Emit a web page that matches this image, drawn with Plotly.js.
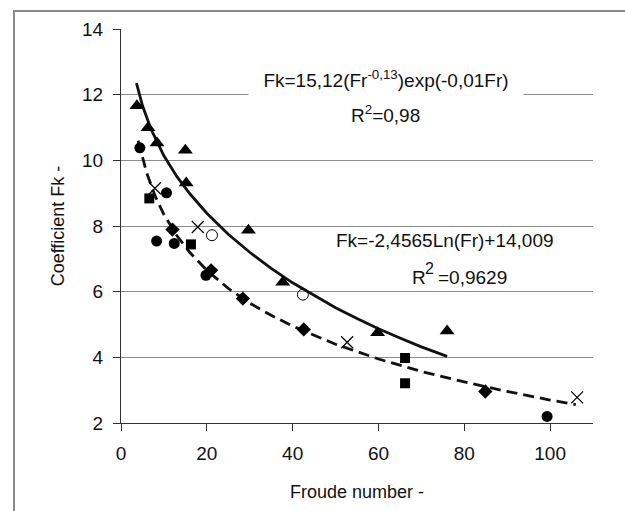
<!DOCTYPE html>
<html>
<head>
<meta charset="utf-8">
<script src="https://cdn.plot.ly/plotly-3.0.1.min.js"></script>
<style>
  html, body { margin: 0; padding: 0; background: #fff; overflow: hidden; }
  #wrap { position: relative; width: 625px; height: 511px; }
  #chart { position: absolute; left: 0; top: 0; width: 625px; height: 511px; }
  #frame { position: absolute; left: 13px; top: 10px; width: 700px; height: 600px;
           border-left: 2px solid #8a8a8a; border-top: 2px solid #8a8a8a; pointer-events: none; }
</style>
</head>
<body>
<div id="wrap">
  <div id="chart"></div>
  <div id="frame"></div>
</div>
<script>
// ---- data ----
const triX = [3.7, 6.3, 8.4, 15.0, 15.2, 29.7, 37.7, 59.8, 76.0];
const triY = [11.66, 10.99, 10.53, 10.31, 9.31, 7.87, 6.29, 4.75, 4.80];

const circX = [4.4, 10.6, 8.3, 12.4, 19.8, 99.3];
const circY = [10.38, 9.01, 7.54, 7.47, 6.50, 2.20];

const sqX = [6.6, 16.3, 66.2, 66.2];
const sqY = [8.84, 7.44, 3.98, 3.21];

const diaX = [12.0, 21.0, 28.4, 42.6, 84.9];
const diaY = [7.89, 6.65, 5.79, 4.85, 2.96];

const openX = [21.2, 42.4];
const openY = [7.72, 5.91];

const crossX = [7.9, 17.9, 52.7, 106.3];
const crossY = [9.15, 7.97, 4.46, 2.78];

// power-exponential trend (solid)
const powFitX = [3.6, 5, 7, 10, 13, 16, 20, 25, 30, 35, 40, 45, 50, 55, 60, 65, 70, 76];
const powFitY = [12.35, 11.67, 10.95, 10.14, 9.51, 8.99, 8.39, 7.75, 7.20, 6.71, 6.27, 5.88, 5.51, 5.18, 4.87, 4.59, 4.32, 4.03];

// logarithmic trend (dashed)
const logFitX = [4, 5, 6, 8, 10, 13, 16, 20, 25, 30, 35, 40, 50, 60, 70, 80, 90, 100, 106];
const logFitY = [10.60, 10.06, 9.61, 8.90, 8.35, 7.71, 7.20, 6.65, 6.10, 5.65, 5.28, 4.95, 4.40, 3.95, 3.57, 3.25, 2.96, 2.70, 2.56];

const xTicks = [0, 20, 40, 60, 80, 100];
const yTicks = [2, 4, 6, 8, 10, 12, 14];

const xTitle = "Froude number -";
const yTitle = "Coefficient Fk -";
const eq1 = "Fk=15,12(Fr<sup>-0,13</sup>)exp(-0,01Fr)";
const r2a = "R<sup>2</sup>=0,98";
const eq2 = "Fk=-2,4565Ln(Fr)+14,009";
const r2bR = "R";
const r2bSup = "2";
const r2bVal = "=0,9629";

// ---- drawing ----
const FONT = '"Liberation Sans", Arial, sans-serif';
const traces = [
  { x: logFitX, y: logFitY, mode: 'lines', line: { color: '#111', width: 2.8, dash: '11px,6px' }, hoverinfo: 'skip' },
  { x: powFitX, y: powFitY, mode: 'lines', line: { color: '#111', width: 2.8 }, hoverinfo: 'skip' },
  { x: triX, y: triY, mode: 'markers', marker: { symbol: 'triangle-up', size: 13, color: '#000' } },
  { x: circX, y: circY, mode: 'markers', marker: { symbol: 'circle', size: 11, color: '#000' } },
  { x: sqX, y: sqY, mode: 'markers', marker: { symbol: 'square', size: 10, color: '#000' } },
  { x: diaX, y: diaY, mode: 'markers', marker: { symbol: 'diamond', size: 11, color: '#000' } },
  { x: openX, y: openY, mode: 'markers', marker: { symbol: 'circle-open', size: 11, color: '#000', line: { width: 1, color: '#000' } } },
  { x: crossX, y: crossY, mode: 'markers', marker: { symbol: 'x-thin-open', size: 12, color: '#000', line: { width: 1.2, color: '#000' } } }
];

const layout = {
  width: 625, height: 511,
  margin: { l: 121, r: 32, t: 29, b: 88, pad: 0 },
  paper_bgcolor: '#fff', plot_bgcolor: '#fff',
  showlegend: false,
  font: { family: FONT, size: 19, color: '#111' },
  xaxis: {
    range: [0, 110], tickvals: xTicks, ticktext: xTicks.map(String),
    showgrid: false, zeroline: false, showline: true, linecolor: '#333', linewidth: 1,
    ticks: 'outside', ticklen: 7, tickcolor: '#333', tickfont: { size: 19 },
    ticklabelstandoff: 6,
    title: { text: xTitle, font: { size: 18 }, standoff: 22 },
    fixedrange: true
  },
  yaxis: {
    range: [2, 14], tickvals: yTicks, ticktext: yTicks.map(String),
    showgrid: true, gridcolor: '#8c8c8c', gridwidth: 1,
    zeroline: false, showline: true, linecolor: '#333', linewidth: 1,
    ticks: 'outside', ticklen: 7, tickcolor: '#333', tickfont: { size: 19 },
    ticklabelstandoff: 6,
    title: { text: yTitle, font: { size: 18 }, standoff: 12 },
    fixedrange: true
  },
  annotations: [
    { x: 61.7, y: 12.48, xref: 'x', yref: 'y', text: eq1, showarrow: false,
      font: { size: 19, color: '#111' }, bgcolor: '#fff', width: 274, height: 38, borderpad: 0 },
    { x: 61.7, y: 11.41, xref: 'x', yref: 'y', text: r2a, showarrow: false,
      font: { size: 19, color: '#111' } },
    { x: 75.6, y: 7.57, xref: 'x', yref: 'y', text: eq2, showarrow: false,
      font: { size: 19, color: '#111' } },
    { x: 69.4, y: 6.44, xref: 'x', yref: 'y', text: r2bR, showarrow: false,
      font: { size: 19, color: '#111' } },
    { x: 72.0, y: 6.70, xref: 'x', yref: 'y', text: r2bSup, showarrow: false,
      font: { size: 16, color: '#111' } },
    { x: 73.4, y: 6.44, xref: 'x', yref: 'y', text: r2bVal, showarrow: false, xanchor: 'left',
      font: { size: 19, color: '#111' } }
  ]
};

Plotly.newPlot('chart', traces, layout, { staticPlot: true, displayModeBar: false });
</script>
</body>
</html>
